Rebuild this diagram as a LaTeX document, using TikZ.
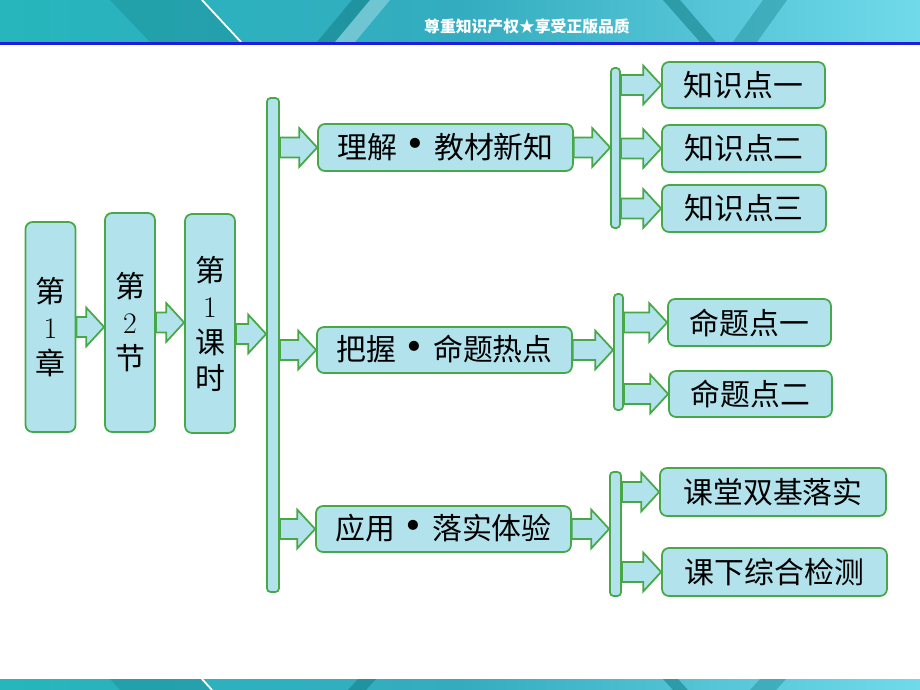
\documentclass[tikz,border=0pt]{standalone}
\usepackage{fontspec}
\usepackage{graphicx}
\newfontfamily\cjk{Noto Sans CJK SC}
\usetikzlibrary{calc}

\definecolor{boxfill}{RGB}{178,227,237}
\definecolor{boxline}{RGB}{72,168,72}
\definecolor{banA}{RGB}{38,182,188}
\definecolor{banB}{RGB}{52,172,192}
\definecolor{banC}{RGB}{112,218,234}
\definecolor{banDark}{RGB}{22,130,140}
\definecolor{banBlue}{RGB}{30,30,225}

\newcommand{\bigdot}{\hspace{-0.18em}\raisebox{-0.12em}{\scalebox{1.6}{•}}\hspace{-0.18em}}

\tikzset{
  cbox/.style={draw=boxline, line width=1pt, fill=boxfill, rounded corners=4pt,
    inner sep=0pt, font={\cjk\fontsize{17}{20.5}\selectfont}},
  vbox/.style={cbox, minimum width=1cm, align=center},
  barbox/.style={draw=boxline, line width=1pt, fill=boxfill, rounded corners=2pt, inner sep=0pt},
  fatarr/.style={draw=boxline, line width=1pt, fill=boxfill, line join=miter}
}

% fat arrow from #1 (its y) to the x of #2
\newcommand{\fatarrow}[2]{%
  \draw[fatarr] let \p1=(#1), \p2=(#2) in
    (\x1,\y1+0.2cm) -- (\x2-0.36cm,\y1+0.2cm) -- (\x2-0.36cm,\y1+0.39cm) -- (\x2,\y1)
    -- (\x2-0.36cm,\y1-0.39cm) -- (\x2-0.36cm,\y1-0.2cm) -- (\x1,\y1-0.2cm) -- cycle;}

\begin{document}
\begin{tikzpicture}[x=0.02cm,y=-0.02cm]
\useasboundingbox (0,0) rectangle (920,690);

% top banner
\shade[left color=banA, right color=banC, middle color=banB] (0,0) rectangle (920,42);
\fill[banDark, opacity=0.35] (110,0) -- (202,0) -- (241,42) -- (150,42) -- cycle;
\draw[white, line width=1pt] (202,0) -- (241,42);
\fill[banDark, opacity=0.6] (352,0) -- (370,0) -- (335,42) -- (317,42) -- cycle;
\fill[white, opacity=0.3] (370,0) -- (390,0) -- (355,42) -- (335,42) -- cycle;
\fill[banDark, opacity=0.6] (663,0) -- (680,0) -- (716,42) -- (700,42) -- cycle;
\fill[banDark, opacity=0.4] (763,0) -- (787,0) -- (757,42) -- (733,42) -- cycle;
\fill[banBlue] (0,42) rectangle (920,44.5);
\node[font={\cjk\bfseries\fontsize{9}{10}\selectfont}, text=white] (ban) at (527,27) {尊重知识产权★享受正版品质};

% bottom banner
\shade[left color=banA, right color=banC, middle color=banB] (0,679) rectangle (920,690);
\fill[banDark, opacity=0.35] (110,679) -- (202,679) -- (212,690) -- (120,690) -- cycle;
\draw[white, line width=1pt] (202,679) -- (212,690);
\fill[banDark, opacity=0.6] (358,679) -- (376,679) -- (366,690) -- (348,690) -- cycle;
\fill[banDark, opacity=0.6] (663,679) -- (678,679) -- (688,690) -- (673,690) -- cycle;
\fill[banDark, opacity=0.4] (760,679) -- (786,679) -- (776,690) -- (750,690) -- cycle;

% chapter / section / lesson
\node[vbox, minimum height=4.2cm] (c1) at (50.5,327) {第\\{\rmfamily 1}\\章};
\node[vbox, minimum height=4.38cm] (c2) at (130,322.5) {第\\{\rmfamily 2}\\节};
\node[vbox, minimum height=4.38cm] (c3) at (210,323.5) {第\\{\rmfamily 1}\\课\\时};
\node[barbox, minimum width=0.24cm, minimum height=9.88cm] (bar0) at (273,345) {};

% three parts
\node[cbox, minimum width=5.1cm, minimum height=0.94cm] (t1) at (445.5,147.5) {理解\bigdot 教材新知};
\node[cbox, minimum width=5.1cm, minimum height=0.92cm] (t2) at (444.5,350) {把握\bigdot 命题热点};
\node[cbox, minimum width=5.1cm, minimum height=0.92cm] (t3) at (443.5,529) {应用\bigdot 落实体验};

\node[barbox, minimum width=0.18cm, minimum height=3.2cm] (bar1) at (615.5,148) {};
\node[barbox, minimum width=0.18cm, minimum height=2.32cm] (bar2) at (618.5,352) {};
\node[barbox, minimum width=0.22cm, minimum height=2.48cm] (bar3) at (615.5,534) {};

% sub items
\node[cbox, minimum width=3.26cm, minimum height=0.92cm] (k1) at (743.5,85) {知识点一};
\node[cbox, minimum width=3.28cm, minimum height=0.94cm] (k2) at (744,148.5) {知识点二};
\node[cbox, minimum width=3.28cm, minimum height=0.94cm] (k3) at (744,208.5) {知识点三};
\node[cbox, minimum width=3.26cm, minimum height=0.94cm] (m1) at (749.5,322.5) {命题点一};
\node[cbox, minimum width=3.26cm, minimum height=0.92cm] (m2) at (750.5,394) {命题点二};
\node[cbox, minimum width=4.52cm, minimum height=0.96cm] (e1) at (773,492) {课堂双基落实};
\node[cbox, minimum width=4.5cm, minimum height=0.96cm] (e2) at (774.5,572) {课下综合检测};

% arrows
\fatarrow{c1.east}{c2.west}
\fatarrow{c2.east}{c3.west}
\fatarrow{$(c3.east)+(0,10.5)$}{bar0.west}
\fatarrow{bar0.east |- t1.west}{t1.west}
\fatarrow{bar0.east |- t2.west}{t2.west}
\fatarrow{bar0.east |- t3.west}{t3.west}
\fatarrow{t1.east}{bar1.west}
\fatarrow{t2.east}{bar2.west}
\fatarrow{t3.east}{bar3.west}
\fatarrow{bar1.east |- k1.west}{k1.west}
\fatarrow{bar1.east |- k2.west}{k2.west}
\fatarrow{bar1.east |- k3.west}{k3.west}
\fatarrow{bar2.east |- m1.west}{m1.west}
\fatarrow{bar2.east |- m2.west}{m2.west}
\fatarrow{bar3.east |- e1.west}{e1.west}
\fatarrow{bar3.east |- e2.west}{e2.west}
\end{tikzpicture}
\end{document}
